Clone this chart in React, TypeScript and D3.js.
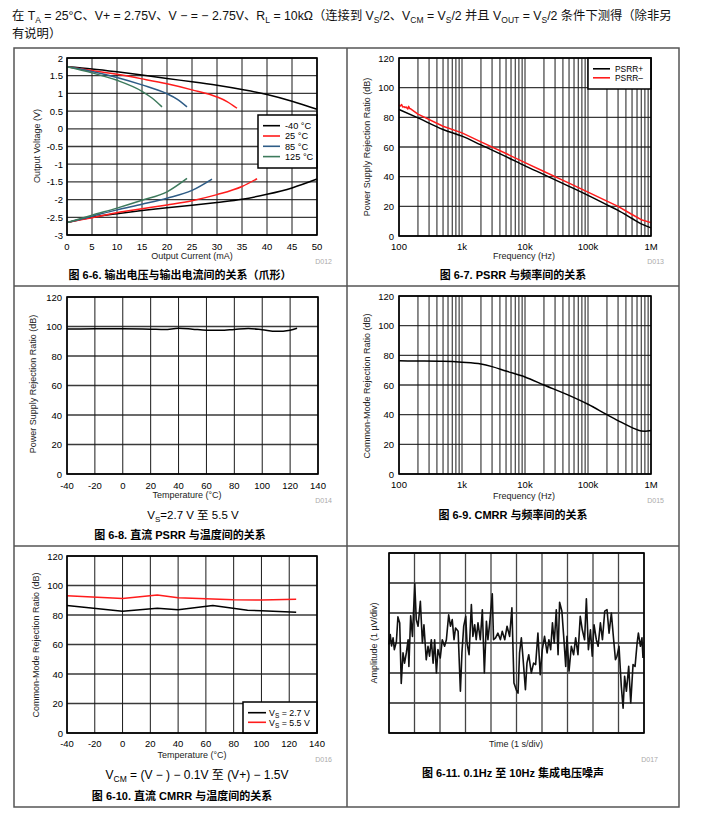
import React from "react";
import * as d3 from "d3";

const FONT = "'Liberation Sans', Arial, 'Noto Sans CJK SC', sans-serif";

// ---------- Figure 6-6: output voltage vs output current ----------
const ovLabels = ["-40 °C", "25 °C", "85 °C", "125 °C"];
const ovColors = ["#000000", "#ff1c1c", "#2e5c86", "#3d7a5c"];
const ovHighI_m40 = [0, 5, 10, 15, 20, 25, 30, 35, 40, 45, 50];
const ovHighV_m40 = [1.75, 1.69, 1.61, 1.52, 1.42, 1.33, 1.23, 1.11, 0.97, 0.78, 0.55];
const ovHighI_25 = [0, 5, 10, 15, 20, 25, 30, 32, 34];
const ovHighV_25 = [1.75, 1.65, 1.54, 1.41, 1.27, 1.1, 0.9, 0.77, 0.58];
const ovHighI_85 = [0, 5, 10, 15, 20, 22, 24];
const ovHighV_85 = [1.75, 1.62, 1.45, 1.24, 0.99, 0.84, 0.62];
const ovHighI_125 = [0, 5, 10, 15, 17, 19];
const ovHighV_125 = [1.75, 1.58, 1.37, 1.06, 0.87, 0.62];
const ovLowI_m40 = [0, 5, 10, 15, 20, 25, 30, 35, 40, 45, 50];
const ovLowV_m40 = [-2.65, -2.5, -2.4, -2.31, -2.23, -2.16, -2.08, -1.99, -1.85, -1.67, -1.42];
const ovLowI_25 = [0, 5, 10, 15, 20, 25, 30, 35, 38];
const ovLowV_25 = [-2.65, -2.51, -2.37, -2.26, -2.15, -2.03, -1.86, -1.63, -1.41];
const ovLowI_85 = [0, 5, 10, 15, 20, 25, 29];
const ovLowV_85 = [-2.65, -2.47, -2.29, -2.13, -1.96, -1.74, -1.42];
const ovLowI_125 = [0, 5, 10, 15, 20, 24];
const ovLowV_125 = [-2.65, -2.44, -2.24, -2.02, -1.78, -1.4];
const ovXTicks = [0, 5, 10, 15, 20, 25, 30, 35, 40, 45, 50];
const ovYTicks = [2, 1.5, 1, 0.5, 0, -0.5, -1, -1.5, -2, -2.5, -3];

// ---------- Figure 6-7: PSRR vs frequency ----------
const psrrFreq = [100, 200, 500, 1e3, 2e3, 5e3, 1e4, 2e4, 5e4, 1e5, 2e5, 3e5, 5e5, 7e5, 1e6];
const psrrPlus = [85.3, 79.6, 71.8, 67.3, 61.4, 53.5, 47.3, 41.4, 33.5, 27.4, 21, 17.3, 11.8, 8.2, 5.5];
const psrrMinusFreq = [100, 105, 110, 115, 120, 125, 130, 138, 142, 148, 155, 200, 500, 1e3, 2e3, 5e3, 1e4, 2e4, 5e4, 1e5, 2e5, 3e5, 5e5, 7e5, 1e6];
const psrrMinus = [88.3, 87.6, 88.6, 86.9, 87.2, 86.6, 87.0, 85.6, 87.4, 85.9, 85.6, 82.2, 74.0, 69.5, 63.5, 55.6, 49.5, 43.5, 35.6, 29.6, 23.5, 20, 14.5, 11, 9];
const psrrLegend = ["PSRR+", "PSRR\u2013"];

// ---------- Figure 6-8: DC PSRR vs temperature ----------
const dcPsrrTemp = [-40, -20, 0, 20, 30, 40, 50, 60, 70, 80, 90, 100, 110, 120, 125];
const dcPsrr = [98.3, 98.4, 98.5, 98.2, 97.9, 98.8, 98.2, 97.5, 97.4, 98, 98.6, 97.8, 96.7, 97.5, 98.8];

// ---------- Figure 6-9: CMRR vs frequency ----------
const cmrrFreq = [100, 200, 500, 1e3, 2e3, 3e3, 5e3, 1e4, 2e4, 5e4, 1e5, 2e5, 3e5, 5e5, 7e5, 8e5, 1e6];
const cmrr = [76.3, 76.2, 76, 75.4, 74.2, 72.4, 69.4, 65.4, 60, 53, 47, 40, 36, 31.3, 29, 28.9, 29.4];

// ---------- Figure 6-10: DC CMRR vs temperature ----------
const dcCmrrTemp27 = [-40, 0, 25, 40, 65, 90, 100, 125];
const dcCmrr27 = [86.5, 82.5, 84.5, 83.6, 86.4, 83.3, 82.8, 81.9];
const dcCmrrTemp55 = [-40, 0, 25, 40, 60, 80, 100, 125];
const dcCmrr55 = [93, 91.2, 93.6, 91.7, 91.1, 90.3, 90.1, 90.7];

// shared ticks
const dbTicks = [0, 20, 40, 60, 80, 100, 120];
const tempTicks = [-40, -20, 0, 20, 40, 60, 80, 100, 120, 140];
const freqTicks = [100, 1e3, 1e4, 1e5, 1e6];
const freqTickLabels = ["100", "1k", "10k", "100k", "1M"];

// ---------- Figure 6-11: 0.1Hz to 10Hz noise (seconds, µV) ----------
const noiseT = [0, 0.05, 0.1, 0.16, 0.21, 0.29, 0.35, 0.42, 0.48, 0.55, 0.61, 0.68, 0.75, 0.78, 0.85, 0.92, 1.01, 1.07, 1.14, 1.23, 1.31, 1.37, 1.46, 1.53, 1.59, 1.66, 1.73, 1.79, 1.86, 1.92, 2.01, 2.09, 2.18, 2.25, 2.34, 2.41, 2.48, 2.55, 2.61, 2.71, 2.8, 2.86, 2.93, 3.01, 3.06, 3.14, 3.23, 3.29, 3.36, 3.42, 3.49, 3.58, 3.66, 3.74, 3.82, 3.88, 3.95, 4.05, 4.1, 4.18, 4.27, 4.37, 4.44, 4.54, 4.63, 4.73, 4.82, 4.9, 4.99, 5.06, 5.12, 5.19, 5.25, 5.35, 5.41, 5.48, 5.58, 5.67, 5.75, 5.84, 5.93, 6.01, 6.1, 6.2, 6.27, 6.34, 6.41, 6.48, 6.56, 6.63, 6.69, 6.78, 6.86, 6.93, 6.98, 7.06, 7.15, 7.24, 7.32, 7.41, 7.5, 7.58, 7.67, 7.74, 7.82, 7.9, 7.97, 8.04, 8.13, 8.2, 8.29, 8.37, 8.46, 8.55, 8.63, 8.72, 8.81, 8.88, 8.94, 9.02, 9.11, 9.18, 9.24, 9.31, 9.4, 9.48, 9.57, 9.65, 9.73, 9.78, 9.86, 9.92, 9.96];
const noiseV = [-0.05, 0.28, -0.1, 0.17, -0.22, 0.05, 0.87, 0.67, -1.35, -0.33, -0.67, -0.33, 0.11, -0.78, 0.91, 0.22, 1.97, 0.78, 0.56, 1.39, 0, 0.61, -0.56, -0.11, -0.44, 0.11, -0.67, 0.11, -1.0, -0.22, -0.5, 0.11, -0.11, 0.11, 0.94, 0.56, 0.78, 0.11, 0.5, 0.39, -1.61, -0.33, 0.56, 0.89, 0, -0.39, 1.28, 0.22, 0.61, 0.11, 0.67, 0.11, 1.11, -1.0, 0.72, 0.11, 0.67, 1.64, 0.11, 0.17, 0.33, 0.11, 0.39, 0.11, 0.56, 0.22, 1.17, -1.33, -1.56, -1.67, -0.33, 0.17, -0.44, -1.56, -0.67, -0.39, -1.0, -0.67, -0.72, 0.33, -1.06, -0.22, 0.22, -0.33, 0.11, -0.22, 0.67, 0, 1.11, -0.39, 1.36, 1.06, 0.11, -0.78, 0.22, -0.94, -0.11, -0.39, 0.17, -0.39, 0.89, 0.44, 0.11, 1.47, -0.22, 0.44, -0.44, 0.61, 0.11, -0.11, 0.67, 0.11, 1.06, 1.11, 0.33, 1.0, 0.11, -0.56, -0.44, -0.11, -1.44, -2.17, -1.11, -1.61, -0.78, -2.0, -0.72, -0.78, 0, 0.33, -0.11, 0.17, -0.5];
const noiseXGrid = [0, 1, 2, 3, 4, 5, 6, 7, 8, 9, 10];
const noiseYGrid = [-3, -2, -1, 0, 1, 2, 3];

type Part = string | [string];
function rich(parts: Part[], subSize: number, shift: number) {
  let inSub = false;
  return parts.map((p, i) => {
    if (Array.isArray(p)) {
      const el = (
        <tspan key={i} dy={inSub ? 0 : shift} fontSize={subSize}>
          {p[0]}
        </tspan>
      );
      inSub = true;
      return el;
    }
    const el = (
      <tspan key={i} dy={inSub ? -shift : 0}>
        {p}
      </tspan>
    );
    inSub = false;
    return el;
  });
}

function logGrid(): number[] {
  const out: number[] = [];
  [100, 1e3, 1e4, 1e5].forEach((d) => {
    for (let k = 1; k < 10; k++) out.push(d * k);
  });
  out.push(1e6);
  return out;
}

type Series = { xs: number[]; ys: number[]; color: string; width?: number; curve?: any };

function Plot({
  x,
  y,
  xGrid,
  yGrid,
  series,
  vColor = "#1a1a1a",
  hColor = "#3a3a3a",
  vWidth = 1,
  hWidth = 1.3,
  children,
}: {
  x: any;
  y: any;
  xGrid: number[];
  yGrid: number[];
  series: Series[];
  vColor?: string;
  hColor?: string;
  vWidth?: number;
  hWidth?: number;
  children?: React.ReactNode;
}) {
  const [x0, x1] = x.range();
  const [yb, yt] = y.range();
  return (
    <g>
      <rect x={x0} y={yt} width={x1 - x0} height={yb - yt} fill="#fff" />
      {yGrid.map((v, i) => (
        <line key={"h" + i} x1={x0} x2={x1} y1={y(v)} y2={y(v)} stroke={hColor} strokeWidth={hWidth} />
      ))}
      {xGrid.map((v, i) => (
        <line key={"v" + i} x1={x(v)} x2={x(v)} y1={yt} y2={yb} stroke={vColor} strokeWidth={vWidth} />
      ))}
      {series.map((s, i) => {
        const gen = d3
          .line<number>()
          .x((_, j) => x(s.xs[j]))
          .y((d) => y(d))
          .curve(s.curve || d3.curveLinear);
        return (
          <path
            key={"s" + i}
            d={gen(s.ys) || ""}
            fill="none"
            stroke={s.color}
            strokeWidth={s.width || 1.5}
            strokeLinejoin="round"
          />
        );
      })}
      {children}
      <rect x={x0} y={yt} width={x1 - x0} height={yb - yt} fill="none" stroke="#000" strokeWidth={1.6} />
    </g>
  );
}

function XLabels({ x, ticks, labels, yPos }: { x: any; ticks: number[]; labels?: string[]; yPos: number }) {
  return (
    <g fontSize={9.5} textAnchor="middle" fill="#000">
      {ticks.map((t, i) => (
        <text key={i} x={x(t)} y={yPos + 3.5}>
          {labels ? labels[i] : String(t)}
        </text>
      ))}
    </g>
  );
}

function YLabels({ y, ticks, xPos }: { y: any; ticks: number[]; xPos: number }) {
  return (
    <g fontSize={9.5} textAnchor="end" fill="#000">
      {ticks.map((t, i) => (
        <text key={i} x={xPos} y={y(t) + 3.5}>
          {String(t)}
        </text>
      ))}
    </g>
  );
}

function YTitle({ cx, cy, text }: { cx: number; cy: number; text: string }) {
  return (
    <text transform={`translate(${cx},${cy}) rotate(-90)`} textAnchor="middle" fontSize={9} y={3.2} fill="#222">
      {text}
    </text>
  );
}

function XTitle({ cx, cy, text }: { cx: number; cy: number; text: string }) {
  return (
    <text x={cx} y={cy + 3.3} textAnchor="middle" fontSize={9} fill="#222">
      {text}
    </text>
  );
}

function DLabel({ xEnd, cy, text }: { xEnd: number; cy: number; text: string }) {
  return (
    <text x={xEnd} y={cy + 2.5} textAnchor="end" fontSize={7} fill="#aaa">
      {text}
    </text>
  );
}

function Caption({ cx, cy, text }: { cx: number; cy: number; text: string }) {
  return (
    <text x={cx} y={cy + 4} textAnchor="middle" fontSize={11} fontWeight="bold" fill="#000">
      {text}
    </text>
  );
}

export default function App() {
  // ---- Panel 1 ----
  const x1 = d3.scaleLinear().domain([0, 50]).range([67, 317]);
  const y1 = d3.scaleLinear().domain([-3, 2]).range([235, 58]);
  const ovSeries: Series[] = [
    { xs: ovHighI_m40, ys: ovHighV_m40, color: ovColors[0] },
    { xs: ovHighI_25, ys: ovHighV_25, color: ovColors[1] },
    { xs: ovHighI_85, ys: ovHighV_85, color: ovColors[2] },
    { xs: ovHighI_125, ys: ovHighV_125, color: ovColors[3] },
    { xs: ovLowI_m40, ys: ovLowV_m40, color: ovColors[0] },
    { xs: ovLowI_25, ys: ovLowV_25, color: ovColors[1] },
    { xs: ovLowI_85, ys: ovLowV_85, color: ovColors[2] },
    { xs: ovLowI_125, ys: ovLowV_125, color: ovColors[3] },
  ].map((s) => ({ ...s, curve: d3.curveMonotoneX }));

  // ---- Panel 2 ----
  const x2 = d3.scaleLog().domain([100, 1e6]).range([399, 651]);
  const y2 = d3.scaleLinear().domain([0, 120]).range([236, 58]);

  // ---- Panel 3 ----
  const x3 = d3.scaleLinear().domain([-40, 140]).range([67, 318]);
  const y3 = d3.scaleLinear().domain([0, 120]).range([474, 297]);

  // ---- Panel 4 ----
  const x4 = d3.scaleLog().domain([100, 1e6]).range([399, 651]);
  const y4 = d3.scaleLinear().domain([0, 120]).range([474, 296]);

  // ---- Panel 5 ----
  const x5 = d3.scaleLinear().domain([-40, 140]).range([67, 317]);
  const y5 = d3.scaleLinear().domain([0, 120]).range([733, 556]);

  // ---- Panel 6 ----
  const x6 = d3.scaleLinear().domain([0, 10]).range([389, 644]);
  const y6 = d3.scaleLinear().domain([-3, 3]).range([733, 553]);

  const lg = logGrid();

  return (
    <svg
      width={728}
      height={821}
      viewBox="0 0 728 821"
      style={{ position: "absolute", left: 0, top: 0, background: "#fff", whiteSpace: "pre" }}
      fontFamily={FONT}
    >
      <rect x={0} y={0} width={728} height={821} fill="#fff" />
      {/* header */}
      <text x={12} y={19.5} fontSize={12.3} fill="#111">
        {rich(
          [
            "在 T",
            ["A"],
            " = 25°C、V+ = 2.75V、V \u2212 = \u2212 2.75V、R",
            ["L"],
            " = 10kΩ（连接到 V",
            ["S"],
            "/2、V",
            ["CM"],
            " = V",
            ["S"],
            "/2 并且 V",
            ["OUT"],
            " = V",
            ["S"],
            "/2 条件下测得（除非另",
          ],
          8.5,
          3
        )}
      </text>
      <text x={12} y={37.5} fontSize={12.3} fill="#111">
        有说明）
      </text>

      {/* outer frame */}
      <g stroke="#555" strokeWidth={1.5} fill="none">
        <rect x={14} y={48} width={665} height={759} />
        <line x1={347} x2={347} y1={48} y2={807} />
        <line x1={14} x2={679} y1={286} y2={286} />
        <line x1={14} x2={679} y1={546} y2={546} />
      </g>

      {/* Panel 1 */}
      <Plot x={x1} y={y1} xGrid={ovXTicks} yGrid={ovYTicks} series={ovSeries}>
        <g>
          <rect x={258} y={115} width={59} height={53} fill="#fff" stroke="#000" strokeWidth={1.5} />
          {ovLabels.map((l, i) => (
            <g key={i}>
              <line x1={263} x2={280} y1={125.7 + i * 10.3} y2={125.7 + i * 10.3} stroke={ovColors[i]} strokeWidth={1.6} />
              <text x={285} y={125.7 + i * 10.3 + 3.3} fontSize={9.2} fill="#000">
                {l}
              </text>
            </g>
          ))}
        </g>
      </Plot>
      <YLabels y={y1} ticks={ovYTicks} xPos={63} />
      <XLabels x={x1} ticks={ovXTicks} yPos={246} />
      <XTitle cx={192} cy={256} text="Output Current (mA)" />
      <YTitle cx={37} cy={146} text="Output Voltage (V)" />
      <DLabel xEnd={332} cy={261} text="D012" />
      <Caption cx={180} cy={275} text="图 6-6. 输出电压与输出电流间的关系（爪形）" />

      {/* Panel 2 */}
      <Plot
        x={x2}
        y={y2}
        xGrid={lg}
        yGrid={dbTicks}
        series={[
          { xs: psrrFreq, ys: psrrPlus, color: "#000", curve: d3.curveMonotoneX },
          { xs: psrrMinusFreq, ys: psrrMinus, color: "#ff1c1c", curve: d3.curveLinear },
        ]}
      >
        <g>
          <rect x={588} y={58} width={63} height={31} fill="#fff" stroke="#000" strokeWidth={1.5} />
          {psrrLegend.map((l, i) => (
            <g key={i}>
              <line x1={593} x2={610} y1={68.8 + i * 9} y2={68.8 + i * 9} stroke={i === 0 ? "#000" : "#ff1c1c"} strokeWidth={1.6} />
              <text x={615} y={68.8 + i * 9 + 3} fontSize={8.4} fill="#000">
                {l}
              </text>
            </g>
          ))}
        </g>
      </Plot>
      <YLabels y={y2} ticks={dbTicks} xPos={394} />
      <XLabels x={x2} ticks={freqTicks} labels={freqTickLabels} yPos={246.7} />
      <XTitle cx={524} cy={256} text="Frequency (Hz)" />
      <YTitle cx={367} cy={147} text="Power Supply Rejection Ratio (dB)" />
      <DLabel xEnd={664} cy={261} text="D013" />
      <Caption cx={513} cy={275} text="图 6-7. PSRR 与频率间的关系" />

      {/* Panel 3 */}
      <Plot
        x={x3}
        y={y3}
        xGrid={tempTicks}
        yGrid={dbTicks}
        series={[{ xs: dcPsrrTemp, ys: dcPsrr, color: "#000", curve: d3.curveMonotoneX }]}
      />
      <YLabels y={y3} ticks={dbTicks} xPos={62} />
      <XLabels x={x3} ticks={tempTicks} yPos={485} />
      <XTitle cx={187} cy={495} text="Temperature (°C)" />
      <YTitle cx={33} cy={384} text="Power Supply Rejection Ratio (dB)" />
      <DLabel xEnd={332} cy={500} text="D014" />
      <text x={193} y={519} textAnchor="middle" fontSize={11.5} fill="#000">
        {rich(["V", ["S"], "=2.7 V 至 5.5 V"], 8, 2.5)}
      </text>
      <Caption cx={180} cy={535} text="图 6-8. 直流 PSRR 与温度间的关系" />

      {/* Panel 4 */}
      <Plot
        x={x4}
        y={y4}
        xGrid={lg}
        yGrid={dbTicks}
        series={[{ xs: cmrrFreq, ys: cmrr, color: "#000", curve: d3.curveMonotoneX }]}
      />
      <YLabels y={y4} ticks={dbTicks} xPos={394} />
      <XLabels x={x4} ticks={freqTicks} labels={freqTickLabels} yPos={484} />
      <XTitle cx={524} cy={496} text="Frequency (Hz)" />
      <YTitle cx={367} cy={386} text="Common-Mode Rejection Ratio (dB)" />
      <DLabel xEnd={664} cy={500} text="D015" />
      <Caption cx={513} cy={515} text="图 6-9. CMRR 与频率间的关系" />

      {/* Panel 5 */}
      <Plot
        x={x5}
        y={y5}
        xGrid={tempTicks}
        yGrid={dbTicks}
        series={[
          { xs: dcCmrrTemp27, ys: dcCmrr27, color: "#000" },
          { xs: dcCmrrTemp55, ys: dcCmrr55, color: "#ff1c1c" },
        ]}
      >
        <g>
          <rect x={243} y={702} width={74} height={31} fill="#fff" stroke="#000" strokeWidth={1.5} />
          {[0, 1].map((i) => (
            <g key={i}>
              <line x1={248} x2={266} y1={712.7 + i * 9.6} y2={712.7 + i * 9.6} stroke={i === 0 ? "#000" : "#ff1c1c"} strokeWidth={1.6} />
              <text x={269} y={712.7 + i * 9.6 + 3.2} fontSize={8.8} fill="#000">
                {rich(["V", ["S"], i === 0 ? " = 2.7 V" : " = 5.5 V"], 6.5, 2)}
              </text>
            </g>
          ))}
        </g>
      </Plot>
      <YLabels y={y5} ticks={dbTicks} xPos={63} />
      <XLabels x={x5} ticks={tempTicks} yPos={743} />
      <XTitle cx={192} cy={755} text="Temperature (°C)" />
      <YTitle cx={36} cy={645} text="Common-Mode Rejection Ratio (dB)" />
      <DLabel xEnd={332} cy={759} text="D016" />
      <text x={197} y={779} textAnchor="middle" fontSize={12} fill="#000">
        {rich(["V", ["CM"], " = (V \u2212 ) \u2212 0.1V 至 (V+) \u2212 1.5V"], 8.5, 3)}
      </text>
      <Caption cx={182} cy={796} text="图 6-10. 直流 CMRR 与温度间的关系" />

      {/* Panel 6 */}
      <Plot
        x={x6}
        y={y6}
        xGrid={noiseXGrid}
        yGrid={noiseYGrid}
        vColor="#444"
        hColor="#222"
        vWidth={1.3}
        hWidth={1.3}
        series={[{ xs: noiseT, ys: noiseV, color: "#111", width: 1.6 }]}
      />
      <XTitle cx={516} cy={744} text="Time (1 s/div)" />
      <YTitle cx={374} cy={643} text="Amplitude (1 µV/div)" />
      <DLabel xEnd={658} cy={759} text="D017" />
      <Caption cx={513} cy={773} text="图 6-11. 0.1Hz 至 10Hz 集成电压噪声" />
    </svg>
  );
}
